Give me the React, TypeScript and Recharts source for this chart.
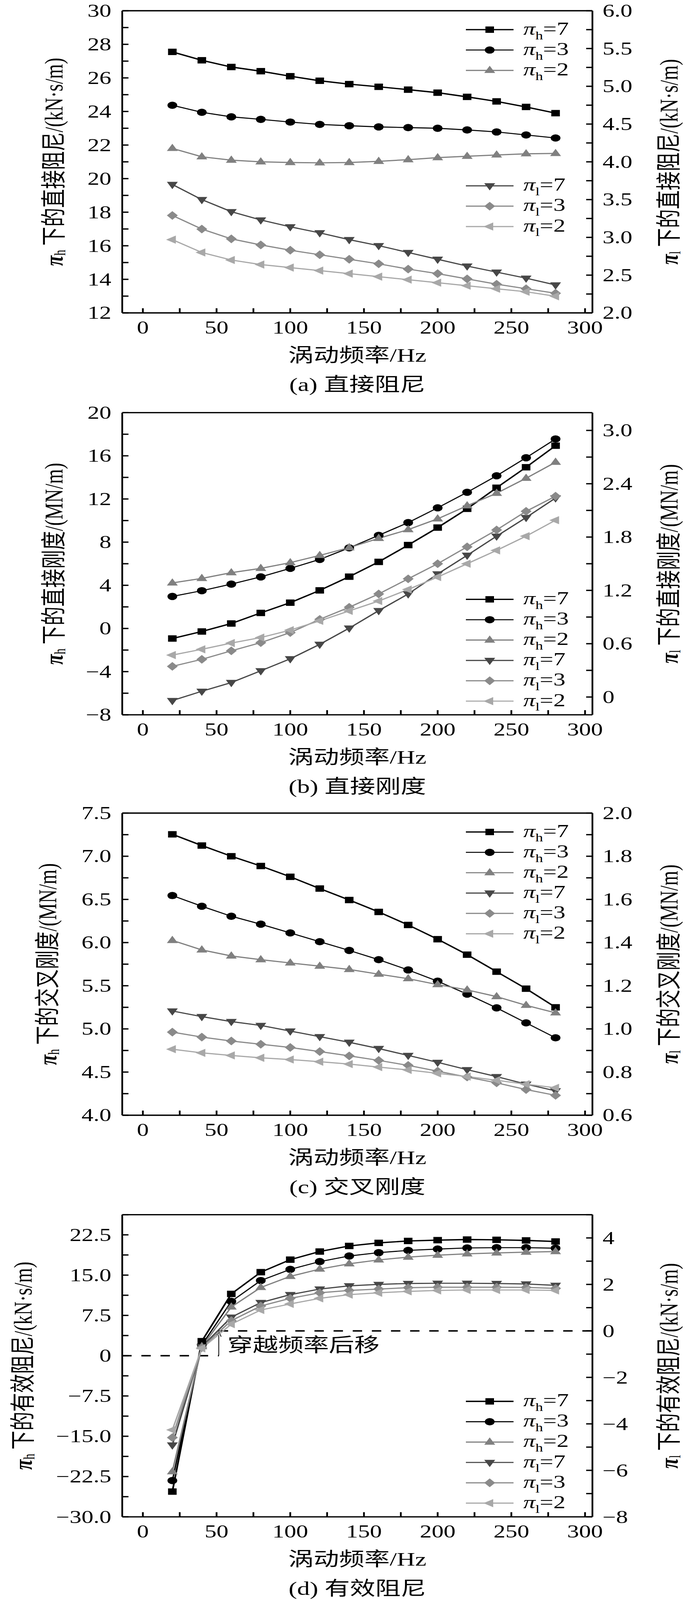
import React from 'react';
import { LineChart, Line, XAxis, YAxis, ReferenceLine, Legend } from 'recharts';

// ---------- data ----------
const freq = [20, 40, 60, 80, 100, 120, 140, 160, 180, 200, 220, 240, 260, 280];

// (a) direct damping
const aH7 = [27.55, 27.05, 26.65, 26.4, 26.1, 25.83, 25.63, 25.47, 25.3, 25.12, 24.87, 24.6, 24.27, 23.9];
const aH3 = [24.37, 23.95, 23.68, 23.53, 23.37, 23.23, 23.15, 23.08, 23.04, 23.0, 22.9, 22.78, 22.6, 22.42];
const aH2 = [21.8, 21.3, 21.1, 21.0, 20.96, 20.94, 20.96, 21.03, 21.13, 21.25, 21.33, 21.41, 21.48, 21.5];
const aL7 = [3.7, 3.5, 3.34, 3.23, 3.14, 3.06, 2.97, 2.89, 2.8, 2.71, 2.62, 2.54, 2.46, 2.37];
const aL3 = [3.29, 3.11, 2.98, 2.9, 2.83, 2.77, 2.71, 2.65, 2.58, 2.52, 2.45, 2.38, 2.32, 2.26];
const aL2 = [2.97, 2.8, 2.7, 2.64, 2.6, 2.56, 2.52, 2.48, 2.44, 2.4, 2.36, 2.32, 2.28, 2.22];

// (b) direct stiffness
const bH7 = [-0.93, -0.28, 0.46, 1.44, 2.39, 3.53, 4.8, 6.17, 7.73, 9.35, 11.09, 13.04, 14.94, 16.94];
const bH3 = [2.97, 3.5, 4.11, 4.78, 5.57, 6.4, 7.47, 8.63, 9.81, 11.18, 12.62, 14.15, 15.82, 17.56];
const bH2 = [4.22, 4.64, 5.17, 5.57, 6.1, 6.77, 7.49, 8.35, 9.16, 10.16, 11.37, 12.53, 13.92, 15.41];
const bL7 = [-0.04, 0.065, 0.163, 0.295, 0.43, 0.593, 0.775, 0.972, 1.16, 1.385, 1.595, 1.81, 2.02, 2.24];
const bL3 = [0.345, 0.424, 0.52, 0.612, 0.725, 0.874, 1.01, 1.16, 1.33, 1.5, 1.69, 1.88, 2.09, 2.26];
const bL2 = [0.472, 0.537, 0.607, 0.669, 0.753, 0.857, 0.969, 1.08, 1.21, 1.35, 1.5, 1.65, 1.81, 1.99];

// (c) cross stiffness
const cH7 = [7.254, 7.124, 7.0, 6.887, 6.762, 6.626, 6.493, 6.355, 6.204, 6.039, 5.86, 5.663, 5.466, 5.25];
const cH3 = [6.545, 6.421, 6.305, 6.213, 6.112, 6.01, 5.909, 5.802, 5.683, 5.553, 5.403, 5.244, 5.07, 4.897];
const cH2 = [6.025, 5.915, 5.845, 5.802, 5.764, 5.727, 5.689, 5.634, 5.582, 5.513, 5.452, 5.374, 5.273, 5.186];
const cL7 = [1.083, 1.057, 1.034, 1.016, 0.99, 0.964, 0.938, 0.909, 0.877, 0.845, 0.811, 0.779, 0.744, 0.713];
const cL3 = [0.985, 0.962, 0.944, 0.929, 0.914, 0.895, 0.875, 0.854, 0.831, 0.804, 0.777, 0.75, 0.719, 0.692];
const cL2 = [0.906, 0.889, 0.877, 0.866, 0.858, 0.848, 0.837, 0.823, 0.81, 0.794, 0.779, 0.762, 0.744, 0.727];

// (d) effective damping
const dH7 = [-25.3, 2.7, 11.5, 15.55, 17.88, 19.39, 20.43, 21.0, 21.36, 21.51, 21.62, 21.57, 21.46, 21.26];
const dH3 = [-23.25, 2.0, 10.1, 13.99, 16.07, 17.52, 18.56, 19.18, 19.6, 19.85, 20.06, 20.11, 20.11, 20.01];
const dH2 = [-21.6, 1.7, 9.07, 12.7, 14.77, 16.12, 17.11, 17.83, 18.35, 18.71, 18.97, 19.13, 19.28, 19.39];
const dL7 = [-4.91, -0.68, 0.59, 1.22, 1.56, 1.8, 1.94, 2.0, 2.04, 2.05, 2.05, 2.04, 2.02, 1.96];
const dL3 = [-4.59, -0.72, 0.44, 1.07, 1.4, 1.64, 1.74, 1.8, 1.86, 1.88, 1.88, 1.88, 1.87, 1.83];
const dL2 = [-4.26, -0.75, 0.29, 0.9, 1.16, 1.4, 1.56, 1.64, 1.7, 1.74, 1.76, 1.76, 1.76, 1.74];
const crossFreq = 51.5;
const crossText = '穿越频率后移';

// ---------- ticks ----------
const xDomain = [-14, 305];
const xTicks = [0, 25, 50, 75, 100, 125, 150, 175, 200, 225, 250, 275, 300];
const xMajor = [0, 50, 100, 150, 200, 250, 300];
const xMajorText = ['0', '50', '100', '150', '200', '250', '300'];

const aLeftTicks = [12, 13, 14, 15, 16, 17, 18, 19, 20, 21, 22, 23, 24, 25, 26, 27, 28, 29, 30];
const aLeftMajor = [12, 14, 16, 18, 20, 22, 24, 26, 28, 30];
const aLeftText = ['12', '14', '16', '18', '20', '22', '24', '26', '28', '30'];
const aRightTicks = [2, 2.25, 2.5, 2.75, 3, 3.25, 3.5, 3.75, 4, 4.25, 4.5, 4.75, 5, 5.25, 5.5, 5.75, 6];
const aRightMajor = [2, 2.5, 3, 3.5, 4, 4.5, 5, 5.5, 6];
const aRightText = ['2.0', '2.5', '3.0', '3.5', '4.0', '4.5', '5.0', '5.5', '6.0'];

const bLeftTicks = [-8, -6, -4, -2, 0, 2, 4, 6, 8, 10, 12, 14, 16, 18, 20];
const bLeftMajor = [-8, -4, 0, 4, 8, 12, 16, 20];
const bLeftText = ['\u22128', '\u22124', '0', '4', '8', '12', '16', '20'];
const bRightTicks = [0, 0.3, 0.6, 0.9, 1.2, 1.5, 1.8, 2.1, 2.4, 2.7, 3.0];
const bRightMajor = [0, 0.6, 1.2, 1.8, 2.4, 3.0];
const bRightText = ['0', '0.6', '1.2', '1.8', '2.4', '3.0'];

const cLeftTicks = [4, 4.25, 4.5, 4.75, 5, 5.25, 5.5, 5.75, 6, 6.25, 6.5, 6.75, 7, 7.25, 7.5];
const cLeftMajor = [4, 4.5, 5, 5.5, 6, 6.5, 7, 7.5];
const cLeftText = ['4.0', '4.5', '5.0', '5.5', '6.0', '6.5', '7.0', '7.5'];
const cRightTicks = [0.6, 0.7, 0.8, 0.9, 1.0, 1.1, 1.2, 1.3, 1.4, 1.5, 1.6, 1.7, 1.8, 1.9, 2.0];
const cRightMajor = [0.6, 0.8, 1.0, 1.2, 1.4, 1.6, 1.8, 2.0];
const cRightText = ['0.6', '0.8', '1.0', '1.2', '1.4', '1.6', '1.8', '2.0'];

const dLeftTicks = [-30, -26.25, -22.5, -18.75, -15, -11.25, -7.5, -3.75, 0, 3.75, 7.5, 11.25, 15, 18.75, 22.5, 26.25];
const dLeftMajor = [-30, -22.5, -15, -7.5, 0, 7.5, 15, 22.5];
const dLeftText = ['\u221230.0', '\u221222.5', '\u221215.0', '\u22127.5', '0', '7.5', '15.0', '22.5'];
const dRightTicks = [-8, -7, -6, -5, -4, -3, -2, -1, 0, 1, 2, 3, 4, 5];
const dRightMajor = [-8, -6, -4, -2, 0, 2, 4];
const dRightText = ['\u22128', '\u22126', '\u22124', '\u22122', '0', '2', '4'];

// ---------- styles ----------
const W = 1772;
const FULL_H = 5502;
const VIEW_H = 4096; // the capture window is only this tall, so the figure is fitted into it
const FIT = VIEW_H / FULL_H;
const PLOT_TOP = 37;
const PLOT_H = 1039;
const LEFT_W = 313;
const RIGHT_W = 255;
const PLOT_L = LEFT_W;
const PLOT_R = W - RIGHT_W;
const AXIS_W = 4.5;
const TICK_LEN = 16;
const TICK_FONT = 61;
const TITLE_FONT = 65;
const SERIF = "'Liberation Serif', 'Times New Roman', serif";
const MIXED = "'Liberation Serif', 'Noto Sans CJK SC', serif";

type Shape = 'square' | 'circle' | 'up' | 'down' | 'diamond' | 'left';
const SERIES: { key: string; axis: 'L' | 'R'; sub: string; val: string; color: string; shape: Shape; width: number }[] = [
  { key: 'h7', axis: 'L', sub: 'h', val: '7', color: '#000000', shape: 'square', width: 4.5 },
  { key: 'h3', axis: 'L', sub: 'h', val: '3', color: '#000000', shape: 'circle', width: 3.5 },
  { key: 'h2', axis: 'L', sub: 'h', val: '2', color: '#808080', shape: 'up', width: 4 },
  { key: 'l7', axis: 'R', sub: 'l', val: '7', color: '#474747', shape: 'down', width: 4 },
  { key: 'l3', axis: 'R', sub: 'l', val: '3', color: '#8a8a8a', shape: 'diamond', width: 4 },
  { key: 'l2', axis: 'R', sub: 'l', val: '2', color: '#a8a8a8', shape: 'left', width: 4 },
];

const Marker = ({ cx, cy, shape, color }: { cx: number; cy: number; shape: Shape; color: string }) => {
  if (cx == null || cy == null || isNaN(cx) || isNaN(cy)) return null;
  switch (shape) {
    case 'square':
      return <rect x={cx - 11} y={cy - 11} width={22} height={22} fill={color} />;
    case 'circle':
      return <circle cx={cx} cy={cy} r={12.5} fill={color} />;
    case 'up':
      return <polygon points={`${cx},${cy - 16} ${cx - 14},${cy + 9} ${cx + 14},${cy + 9}`} fill={color} />;
    case 'down':
      return <polygon points={`${cx},${cy + 16} ${cx - 14},${cy - 9} ${cx + 14},${cy - 9}`} fill={color} />;
    case 'diamond':
      return <polygon points={`${cx},${cy - 15} ${cx + 14},${cy} ${cx},${cy + 15} ${cx - 14},${cy}`} fill={color} />;
    case 'left':
      return <polygon points={`${cx - 16},${cy} ${cx + 9},${cy - 14} ${cx + 9},${cy + 14}`} fill={color} />;
  }
  return null;
};

const near = (a: number, b: number) => Math.abs(a - b) < 1e-6;
const labelFor = (v: number, major: number[], text: string[]) => {
  const i = major.findIndex((m) => near(m, v));
  return i >= 0 ? text[i] : null;
};

const XTick = (props: any) => {
  const { x, y, payload } = props;
  const t = labelFor(payload.value, xMajor, xMajorText);
  return (
    <g>
      <line x1={x} x2={x} y1={y} y2={y - TICK_LEN} stroke="#000" strokeWidth={AXIS_W} />
      {t !== null && (
        <text x={x} y={y + 71} textAnchor="middle" fontSize={TICK_FONT} fontFamily={SERIF} fill="#000">
          {t}
        </text>
      )}
    </g>
  );
};

const makeYTick = (side: 'L' | 'R', major: number[], text: string[]) => (props: any) => {
  const { x, y, payload } = props;
  const t = labelFor(payload.value, major, text);
  const dir = side === 'L' ? 1 : -1;
  return (
    <g>
      <line x1={x} x2={x + dir * TICK_LEN} y1={y} y2={y} stroke="#000" strokeWidth={AXIS_W} />
      {t !== null && (
        <text
          x={side === 'L' ? x - 28 : x + 26}
          y={y}
          dy="0.34em"
          textAnchor={side === 'L' ? 'end' : 'start'}
          fontSize={TICK_FONT}
          fontFamily={SERIF}
          fill="#000"
        >
          {t}
        </text>
      )}
    </g>
  );
};

const build = (h7: number[], h3: number[], h2: number[], l7: number[], l3: number[], l2: number[]) =>
  freq.map((f, i) => ({ f, h7: h7[i], h3: h3[i], h2: h2[i], l7: l7[i], l3: l3[i], l2: l2[i] }));

type AxisCfg = { domain: number[]; ticks: number[]; major: number[]; text: string[] };
type PanelCfg = {
  id: string;
  height: number;
  data: any[];
  left: AxisCfg;
  right: AxisCfg;
  quantity: string;
  unit: string;
  caption: string;
  leftTitleX: number;
  legend: { center: number; items: number[] }[];
  cross?: boolean;
};

const panels: PanelCfg[] = [
  {
    id: 'a',
    height: 1382,
    data: build(aH7, aH3, aH2, aL7, aL3, aL2),
    left: { domain: [12, 30], ticks: aLeftTicks, major: aLeftMajor, text: aLeftText },
    right: { domain: [2, 6], ticks: aRightTicks, major: aRightMajor, text: aRightText },
    quantity: '下的直接阻尼',
    unit: '/(kN\u00B7s/m)',
    caption: '(a) 直接阻尼',
    leftTitleX: 137,
    legend: [
      { center: 65, items: [0, 1, 2] },
      { center: 602, items: [3, 4, 5] },
    ],
  },
  {
    id: 'b',
    height: 1377,
    data: build(bH7, bH3, bH2, bL7, bL3, bL2),
    left: { domain: [-8, 20], ticks: bLeftTicks, major: bLeftMajor, text: bLeftText },
    right: { domain: [-0.2, 3.2], ticks: bRightTicks, major: bRightMajor, text: bRightText },
    quantity: '下的直接刚度',
    unit: '/(MN/m)',
    caption: '(b) 直接刚度',
    leftTitleX: 137,
    legend: [{ center: 642, items: [0, 1, 2, 3, 4, 5] }],
  },
  {
    id: 'c',
    height: 1381,
    data: build(cH7, cH3, cH2, cL7, cL3, cL2),
    left: { domain: [4, 7.5], ticks: cLeftTicks, major: cLeftMajor, text: cLeftText },
    right: { domain: [0.6, 2.0], ticks: cRightTicks, major: cRightMajor, text: cRightText },
    quantity: '下的交叉刚度',
    unit: '/(MN/m)',
    caption: '(c) 交叉刚度',
    leftTitleX: 121,
    legend: [{ center: 65, items: [0, 1, 2, 3, 4, 5] }],
  },
  {
    id: 'd',
    height: 1362,
    data: build(dH7, dH3, dH2, dL7, dL3, dL2),
    left: { domain: [-30, 26.25], ticks: dLeftTicks, major: dLeftMajor, text: dLeftText },
    right: { domain: [-8, 5], ticks: dRightTicks, major: dRightMajor, text: dRightText },
    quantity: '下的有效阻尼',
    unit: '/(kN\u00B7s/m)',
    caption: '(d) 有效阻尼',
    leftTitleX: 58,
    legend: [{ center: 642, items: [0, 1, 2, 3, 4, 5] }],
    cross: true,
  },
];

const ROW_H = 70;

const LegendBlock = ({ groups }: { groups: { center: number; items: number[] }[] }) => (
  <div style={{ position: 'relative', width: 360, height: PLOT_H }}>
    {groups.map((g, gi) => (
      <div key={gi} style={{ position: 'absolute', left: 0, top: g.center - ROW_H / 2 }}>
        {g.items.map((i) => {
          const s = SERIES[i];
          return (
            <div key={i} style={{ display: 'flex', alignItems: 'center', height: ROW_H }}>
              <svg width={122} height={40} style={{ display: 'block', overflow: 'visible' }}>
                <line x1={0} x2={122} y1={20} y2={20} stroke={s.color} strokeWidth={s.width} />
                <Marker cx={61} cy={20} shape={s.shape} color={s.color} />
              </svg>
              <span
                style={{
                  marginLeft: 25,
                  fontFamily: SERIF,
                  fontSize: 62,
                  lineHeight: `${ROW_H}px`,
                  whiteSpace: 'nowrap',
                  color: '#000',
                }}
              >
                <span style={{ fontStyle: 'italic', color: '#000' }}>π</span>
                <span style={{ fontSize: 39, position: 'relative', top: 16, color: '#000' }}>{s.sub}</span>
                <span style={{ color: '#000' }}>={s.val}</span>
              </span>
            </div>
          );
        })}
      </div>
    ))}
  </div>
);

const CrossShape = (p: any) => {
  const { x1, y1, x2, y2 } = p;
  const top = Math.min(y1, y2);
  const bottom = Math.max(y1, y2);
  return (
    <g>
      <line x1={x1} y1={bottom} x2={x2} y2={top} stroke="#000" strokeWidth={2} />
      <path d={`M${x2 - 6},${top + 20} L${x2},${top} L${x2 + 6},${top + 20}`} fill="none" stroke="#000" strokeWidth={2} />
      <text
        x={x2 + 22}
        y={(top + bottom) / 2 + 6}
        dominantBaseline="central"
        fontSize={TITLE_FONT}
        fontFamily={MIXED}
        fill="#000"
      >
        {crossText}
      </text>
    </g>
  );
};

const AxisTitle = ({ cx, cy, sub, quantity, unit }: { cx: number; cy: number; sub: string; quantity: string; unit: string }) => (
  <text
    transform={`rotate(-90 ${cx} ${cy})`}
    x={cx}
    y={cy}
    textAnchor="middle"
    dominantBaseline="central"
    fontSize={TITLE_FONT}
    fontFamily={MIXED}
    fill="#000"
  >
    <tspan fontStyle="italic" fontWeight="bold">π</tspan>
    <tspan fontSize={40} dy={16}>{sub}</tspan>
    <tspan dy={-16} dx={14}>{quantity}</tspan>
    <tspan>{unit}</tspan>
  </text>
);

const Panel = ({ cfg }: { cfg: PanelCfg }) => {
  const xAxisH = cfg.height - PLOT_TOP - PLOT_H;
  const plotBottom = PLOT_TOP + PLOT_H;
  const midY = PLOT_TOP + PLOT_H / 2;
  const midX = (PLOT_L + PLOT_R) / 2;
  const [lMin, lMax] = cfg.left.domain;
  const [rMin, rMax] = cfg.right.domain;
  const leftAtRightZero = lMin + ((0 - rMin) / (rMax - rMin)) * (lMax - lMin);
  return (
    <div style={{ position: 'relative', width: W, height: cfg.height }}>
      <LineChart width={W} height={cfg.height} data={cfg.data} margin={{ top: PLOT_TOP, right: 0, bottom: 0, left: 0 }}>
        <XAxis
          dataKey="f"
          type="number"
          domain={xDomain}
          allowDataOverflow
          ticks={xTicks}
          interval={0}
          tick={XTick}
          tickLine={false}
          tickSize={0}
          tickMargin={0}
          height={xAxisH}
          axisLine={{ stroke: '#000', strokeWidth: AXIS_W }}
        />
        <YAxis
          yAxisId="L"
          orientation="left"
          type="number"
          domain={cfg.left.domain}
          allowDataOverflow
          ticks={cfg.left.ticks}
          interval={0}
          tick={makeYTick('L', cfg.left.major, cfg.left.text)}
          tickLine={false}
          tickSize={0}
          tickMargin={0}
          width={LEFT_W}
          axisLine={{ stroke: '#000', strokeWidth: AXIS_W }}
        />
        <YAxis
          yAxisId="R"
          orientation="right"
          type="number"
          domain={cfg.right.domain}
          allowDataOverflow
          ticks={cfg.right.ticks}
          interval={0}
          tick={makeYTick('R', cfg.right.major, cfg.right.text)}
          tickLine={false}
          tickSize={0}
          tickMargin={0}
          width={RIGHT_W}
          axisLine={{ stroke: '#000', strokeWidth: AXIS_W }}
        />
        <ReferenceLine yAxisId="L" y={lMax} stroke="#000" strokeWidth={AXIS_W} />
        {cfg.cross && (
          <ReferenceLine
            yAxisId="L"
            segment={[
              { x: xDomain[0], y: 0 },
              { x: crossFreq, y: 0 },
            ]}
            stroke="#000"
            strokeWidth={5}
            strokeDasharray="24 25"
          />
        )}
        {cfg.cross && (
          <ReferenceLine
            yAxisId="R"
            segment={[
              { x: crossFreq, y: 0 },
              { x: xDomain[1], y: 0 },
            ]}
            stroke="#000"
            strokeWidth={5}
            strokeDasharray="24 25"
          />
        )}
        {cfg.cross && (
          <ReferenceLine
            yAxisId="L"
            segment={[
              { x: crossFreq, y: 0 },
              { x: crossFreq, y: leftAtRightZero },
            ]}
            stroke="#000"
            strokeWidth={2}
            shape={CrossShape}
          />
        )}
        {SERIES.map((s) => (
          <Line
            key={s.key}
            yAxisId={s.axis}
            dataKey={s.key}
            type="linear"
            stroke={s.color}
            strokeWidth={s.width}
            isAnimationActive={false}
            activeDot={false}
            dot={(p: any) => <Marker key={`${s.key}-${p.index}`} cx={p.cx} cy={p.cy} shape={s.shape} color={s.color} />}
          />
        ))}
        <Legend
          layout="horizontal"
          align="center"
          verticalAlign="middle"
          wrapperStyle={{ left: 1193, top: PLOT_TOP, width: 360 }}
          content={() => <LegendBlock groups={cfg.legend} />}
        />
      </LineChart>
      <svg
        width={W}
        height={cfg.height}
        style={{ position: 'absolute', left: 0, top: 0, pointerEvents: 'none' }}
      >
        <AxisTitle cx={cfg.leftTitleX} cy={midY} sub="h" quantity={cfg.quantity} unit={cfg.unit} />
        <AxisTitle cx={1712} cy={midY} sub="l" quantity={cfg.quantity} unit={cfg.unit} />
        <text
          x={midX}
          y={plotBottom + 146}
          textAnchor="middle"
          dominantBaseline="central"
          fontSize={TITLE_FONT}
          fontFamily={MIXED}
          fill="#000"
        >
          涡动频率/Hz
        </text>
        <text
          x={midX}
          y={plotBottom + 247}
          textAnchor="middle"
          dominantBaseline="central"
          fontSize={TITLE_FONT}
          fontFamily={MIXED}
          fill="#000"
        >
          {cfg.caption}
        </text>
      </svg>
    </div>
  );
};

export default function App() {
  return (
    <div style={{ width: W, height: VIEW_H, overflow: 'hidden', background: '#fff' }}>
      <style>{`html,body{margin:0;padding:0;background:#fff;overflow:hidden;}`}</style>
      <div style={{ width: W, height: FULL_H, transform: `scaleY(${FIT})`, transformOrigin: '0 0' }}>
        {panels.map((p) => (
          <Panel key={p.id} cfg={p} />
        ))}
      </div>
    </div>
  );
}
